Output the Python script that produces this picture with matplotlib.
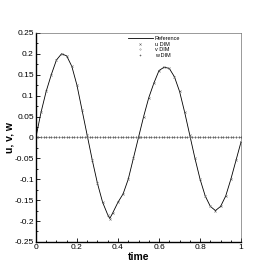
import numpy as np
import matplotlib
matplotlib.use('Agg')
import matplotlib.pyplot as plt
from matplotlib.ticker import MultipleLocator

# values
t = [0.0, 0.025, 0.05, 0.075, 0.1, 0.125, 0.15, 0.175, 0.2, 0.225,
     0.25, 0.275, 0.3, 0.325, 0.35, 0.36, 0.375, 0.4, 0.425, 0.45,
     0.475, 0.5, 0.525, 0.55, 0.575, 0.6, 0.625, 0.65, 0.675, 0.7,
     0.725, 0.75, 0.775, 0.8, 0.825, 0.85, 0.875, 0.9, 0.925, 0.95,
     0.975, 1.0]
u_ref = [0.0, 0.06, 0.11, 0.15, 0.185, 0.2, 0.195, 0.17, 0.125, 0.065,
         0.005, -0.055, -0.11, -0.155, -0.185, -0.194, -0.18, -0.155, -0.135, -0.1,
         -0.05, 0.0, 0.05, 0.095, 0.13, 0.16, 0.168, 0.165, 0.145, 0.11,
         0.06, 0.005, -0.05, -0.1, -0.14, -0.165, -0.175, -0.165, -0.14, -0.1,
         -0.055, -0.01]
u_dim = u_ref
# v and w stay on zero over the whole run
t_vw = np.arange(0, 1.001, 0.0125)
v_dim = np.zeros(len(t_vw))
w_dim = np.zeros(len(t_vw))

plt.rcParams['font.family'] = ['Liberation Sans', 'DejaVu Sans']

fig = plt.figure(figsize=(2.74, 2.74), dpi=100)
ax = fig.add_axes([0.131, 0.117, 0.749, 0.763])

ax.plot(t, u_ref, color='black', lw=0.6, label='Reference')
ax.plot(t, u_dim, ls='none', marker='x', ms=1.5, mew=0.4, color='0.4', label='u DIM')
ax.plot(t_vw, v_dim, ls='none', marker='o', ms=1.0, mew=0.3, mfc='none', color='0.45', label='v DIM')
ax.plot(t_vw, w_dim, ls='none', marker='+', ms=2, mew=0.4, color='0.4', label='w DIM')

ax.set_xlim(0, 1)
ax.set_ylim(-0.25, 0.25)
ax.xaxis.set_major_locator(MultipleLocator(0.2))
ax.xaxis.set_minor_locator(MultipleLocator(0.05))
ax.yaxis.set_major_locator(MultipleLocator(0.05))
ax.yaxis.set_minor_locator(MultipleLocator(0.025))
ax.xaxis.set_major_formatter(plt.FuncFormatter(lambda v, p: '%g' % round(v, 3)))
ax.yaxis.set_major_formatter(plt.FuncFormatter(lambda v, p: '%g' % round(v, 3)))
ax.tick_params(which='both', direction='in', labelsize=6, width=0.6, pad=1.5)
ax.tick_params(which='major', length=3)
ax.tick_params(which='minor', length=1.6)
ax.spines['left'].set_linewidth(1.0)
ax.spines['bottom'].set_linewidth(1.0)
ax.spines['top'].set_linewidth(0.4)
ax.spines['right'].set_linewidth(0.4)
ax.spines['top'].set_color('0.3')
ax.spines['right'].set_color('0.3')

ax.set_xlabel('time', fontsize=7.5, fontweight='bold', labelpad=1)
ax.set_ylabel('u, v, w', fontsize=7.5, fontweight='bold', labelpad=0)

ax.legend(loc='upper right', bbox_to_anchor=(0.72, 1.0), frameon=False, fontsize=4,
          handlelength=4.5, handletextpad=0.4, labelspacing=0.1, borderaxespad=0.2)

fig.savefig('out.png', dpi=100)
